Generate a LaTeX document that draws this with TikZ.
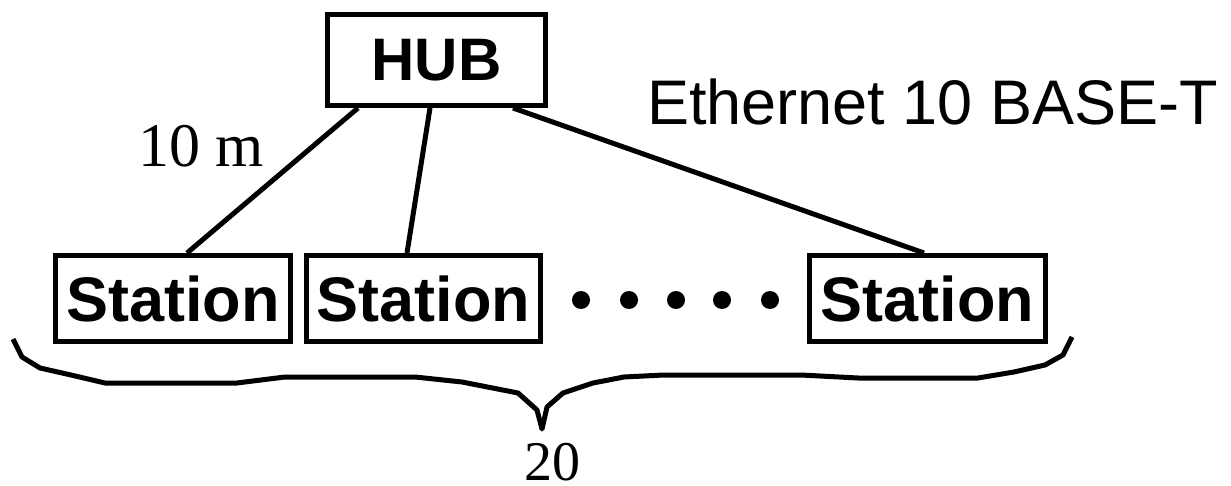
\documentclass[tikz,border=0pt]{standalone}
\usepackage{fontspec}
\setmainfont{Liberation Serif}
\setsansfont{Liberation Sans}
\begin{document}
\begin{tikzpicture}[x=1pt,y=-1pt,
  box/.style={draw=black,line width=5pt,inner sep=0pt,text depth=0pt,
    font=\sffamily\bfseries\fontsize{63}{70}\selectfont},
  wire/.style={line width=5pt},
  dot/.style={circle,fill=black,inner sep=0pt,minimum size=18pt},
  serifsize/.style={font=\rmfamily\fontsize{62}{70}\selectfont,inner sep=0pt}]
\useasboundingbox (0,0) rectangle (1231,486);

% hub and stations
\node[box,minimum width=218pt,minimum height=91pt,
  font=\sffamily\bfseries\fontsize{60}{70}\selectfont] (hub) at (436.5,60) {HUB};
\node[box,minimum width=235pt,minimum height=86pt] (st1) at (173,298.5) {Station};
\node[box,minimum width=234pt,minimum height=86pt] (st2) at (423.5,298.5) {Station};
\node[box,minimum width=236pt,minimum height=86pt] (st3) at (927.5,298.5) {Station};

% cables
\draw[wire] ([xshift=-78.5pt]hub.south) -- ([xshift=14pt]st1.north);
\draw[wire] ([xshift=-6.5pt]hub.south) -- ([xshift=-16.5pt]st2.north);
\draw[wire] ([xshift=76.5pt]hub.south) -- ([xshift=-3.5pt]st3.north);

% ellipsis between stations
\node[dot] (d1) at (581,300) {};
\node[dot] (d2) at (629,300) {};
\node[dot] (d3) at (676,300) {};
\node[dot] (d4) at (722,300) {};
\node[dot] (d5) at (770,300) {};

% labels
\node[serifsize,anchor=base west] (len) at (138,167) {10 m};
\node[anchor=base west,inner sep=0pt,font=\sffamily\fontsize{63}{70}\selectfont]
  (eth) at (647,125) {Ethernet 10 BASE-T};

% brace under the stations
\draw[line width=5pt,line join=round]
  (13,339) -- (22,357) -- (40,368) -- (71,375) -- (105,383) -- (237,383)
  -- (285,377) -- (415,377) -- (462,382) -- (518,393) -- (537,410) -- (542,429)
  -- (547,407) -- (563,393) -- (593,383) -- (624,377) -- (664,375) -- (801,375)
  -- (858,378) -- (978,378) -- (1014,372) -- (1045,365) -- (1063,355) -- (1072,337);
\node[serifsize,font=\rmfamily\fontsize{56}{64}\selectfont,anchor=base] (cnt) at (552,480) {20};
\end{tikzpicture}
\end{document}
